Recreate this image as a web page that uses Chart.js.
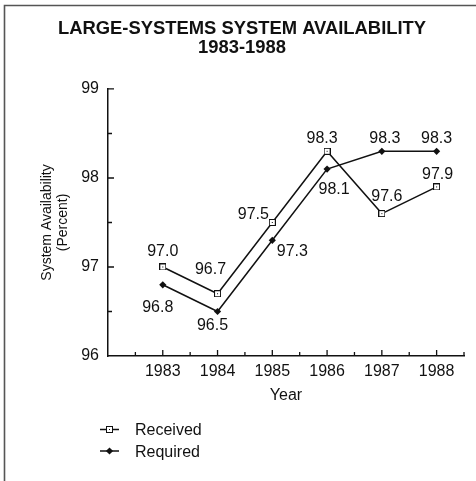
<!DOCTYPE html>
<html>
<head>
<meta charset="utf-8">
<script src="https://cdn.jsdelivr.net/npm/chart.js@4.4.1/dist/chart.umd.min.js"></script>
<style>
  html, body { margin: 0; padding: 0; background: #fff; }
  canvas { display: block; }
</style>
</head>
<body>
<canvas id="c" width="476" height="481"></canvas>
<script>
// ---- data ----
const years = [1983, 1984, 1985, 1986, 1987, 1988];
const received = [97.0, 96.7, 97.5, 98.3, 97.6, 97.9];
const required = [96.8, 96.5, 97.3, 98.1, 98.3, 98.3];
const yTickLabels = [96, 97, 98, 99];
const seriesNames = ['Received', 'Required'];
const titleLines = ['LARGE-SYSTEMS SYSTEM AVAILABILITY', '1983-1988'];
const yTitleLines = ['System Availability', '(Percent)'];
const xTitle = 'Year';

// placement of each value label relative to its marker (dx, dy in px)
const receivedLabelOffsets = [[0, -17], [-7, -25], [-19, -9], [-5, -14], [5, -18], [1, -14]];
const requiredLabelOffsets = [[-5, 22], [-5, 13], [20, 10], [7, 19], [3, -14], [0, -14]];

const FONT = '"Liberation Sans", Arial, Helvetica, sans-serif';
const INK = '#111';

// small open square with a dot in the middle
function squareDotMarker() {
  const c = document.createElement('canvas');
  c.width = 7; c.height = 7;
  const g = c.getContext('2d');
  g.fillStyle = '#fff';
  g.fillRect(0, 0, 7, 7);
  g.strokeStyle = INK;
  g.lineWidth = 1;
  g.strokeRect(0.5, 0.5, 6, 6);
  g.fillStyle = INK;
  g.fillRect(3, 3, 1, 1);
  return c;
}
const squareImg = squareDotMarker();

// page frame (top and left rules) and white background
const framePlugin = {
  id: 'frame',
  beforeDraw(chart) {
    const ctx = chart.ctx;
    ctx.save();
    ctx.fillStyle = '#fff';
    ctx.fillRect(0, 0, chart.width, chart.height);
    ctx.strokeStyle = '#555';
    ctx.lineWidth = 1.6;
    ctx.beginPath();
    ctx.moveTo(4.5, chart.height);
    ctx.lineTo(4.5, 5.5);
    ctx.lineTo(chart.width, 5.5);
    ctx.stroke();
    ctx.restore();
  }
};

// inward-pointing tick marks on both axes
const innerTicksPlugin = {
  id: 'innerTicks',
  afterDraw(chart) {
    const ctx = chart.ctx;
    const xs = chart.scales.x, ys = chart.scales.y;
    ctx.save();
    ctx.strokeStyle = INK;
    ctx.lineWidth = 1.3;
    ctx.beginPath();
    xs.ticks.forEach(t => {
      if (t.value === xs.min) return;
      const px = xs.getPixelForValue(t.value);
      const len = Number.isInteger(t.value) ? 6 : 4;
      ctx.moveTo(px, xs.top);
      ctx.lineTo(px, xs.top - len);
    });
    ys.ticks.forEach(t => {
      if (t.value === ys.min) return;
      const py = ys.getPixelForValue(t.value);
      const len = Number.isInteger(t.value) ? 6 : 4;
      ctx.moveTo(ys.right, py);
      ctx.lineTo(ys.right + len, py);
    });
    ctx.stroke();
    ctx.restore();
  }
};

// value labels next to each marker
const valueLabelsPlugin = {
  id: 'valueLabels',
  afterDatasetsDraw(chart) {
    const ctx = chart.ctx;
    ctx.save();
    ctx.font = '16px ' + FONT;
    ctx.fillStyle = INK;
    ctx.textAlign = 'center';
    ctx.textBaseline = 'alphabetic';
    chart.data.datasets.forEach((ds, i) => {
      const meta = chart.getDatasetMeta(i);
      meta.data.forEach((pt, j) => {
        const [dx, dy] = ds.labelOffsets[j];
        ctx.fillText(ds.data[j].y.toFixed(1), pt.x + dx, pt.y + dy + 5.7);
      });
    });
    ctx.restore();
  }
};

// line-and-marker legend below the axis
const lineLegendPlugin = {
  id: 'lineLegend',
  afterDraw(chart) {
    const ctx = chart.ctx;
    const rows = [429.5, 451];
    ctx.save();
    chart.data.datasets.forEach((ds, i) => {
      const y = rows[i];
      ctx.strokeStyle = INK;
      ctx.lineWidth = ds.borderWidth;
      ctx.beginPath();
      ctx.moveTo(100, y);
      ctx.lineTo(119, y);
      ctx.stroke();
      ctx.fillStyle = ds.pointBackgroundColor || '#fff';
      Chart.helpers.drawPoint(ctx, {
        pointStyle: ds.pointStyle, radius: ds.pointRadius, rotation: 0,
        borderWidth: ds.pointBorderWidth || 0
      }, 109.5, y);
      ctx.font = '16px ' + FONT;
      ctx.fillStyle = INK;
      ctx.textAlign = 'left';
      ctx.textBaseline = 'alphabetic';
      ctx.fillText(ds.label, 135, y + 5.7);
    });
    ctx.restore();
  }
};

new Chart(document.getElementById('c'), {
  type: 'line',
  data: {
    datasets: [
      {
        label: seriesNames[0],
        data: years.map((x, i) => ({ x, y: received[i] })),
        borderColor: INK,
        borderWidth: 1.5,
        pointStyle: squareImg,
        pointRadius: 3.5,
        pointHoverRadius: 3.5,
        labelOffsets: receivedLabelOffsets
      },
      {
        label: seriesNames[1],
        data: years.map((x, i) => ({ x, y: required[i] })),
        borderColor: INK,
        borderWidth: 1.5,
        pointStyle: 'rectRot',
        pointRadius: 3.6,
        pointHoverRadius: 3.6,
        pointBackgroundColor: INK,
        pointBorderColor: INK,
        pointBorderWidth: 0,
        labelOffsets: requiredLabelOffsets
      }
    ]
  },
  options: {
    responsive: false,
    animation: false,
    devicePixelRatio: 1,
    layout: { padding: { left: 8, right: 0, top: 0, bottom: 65 } },
    plugins: {
      legend: { display: false },
      tooltip: { enabled: false },
      title: {
        display: true,
        text: titleLines,
        color: INK,
        font: { family: FONT, size: 18.4, weight: 'bold', lineHeight: 1.04 },
        padding: { top: 19.7, bottom: 31 }
      }
    },
    scales: {
      x: {
        type: 'linear',
        min: 1982,
        max: 1988.5,
        grid: { drawOnChartArea: false, drawTicks: false },
        border: { display: true, color: INK, width: 1.5 },
        ticks: {
          stepSize: 0.5,
          autoSkip: false,
          maxRotation: 0,
          padding: 6,
          color: INK,
          font: { family: FONT, size: 16 },
          callback: v => years.includes(v) ? String(v) : ''
        },
        title: {
          display: true,
          text: xTitle,
          color: INK,
          font: { family: FONT, size: 16 },
          padding: { top: 0, bottom: 11 }
        },
        afterFit(s) { s.height = 60; s.paddingRight = 12; }
      },
      y: {
        min: 96,
        max: 99,
        grid: { drawOnChartArea: false, drawTicks: false },
        border: { display: true, color: INK, width: 1.5 },
        ticks: {
          stepSize: 0.5,
          autoSkip: false,
          padding: 9,
          color: INK,
          font: { family: FONT, size: 16 },
          callback: v => yTickLabels.includes(v) ? String(v) : ''
        },
        title: {
          display: true,
          text: yTitleLines,
          color: INK,
          font: { family: FONT, size: 14, lineHeight: 1.15 },
          padding: { top: 31, bottom: 0 }
        },
        afterFit(s) { s.width = 100; }
      }
    }
  },
  plugins: [framePlugin, innerTicksPlugin, valueLabelsPlugin, lineLegendPlugin]
});
</script>
</body>
</html>
